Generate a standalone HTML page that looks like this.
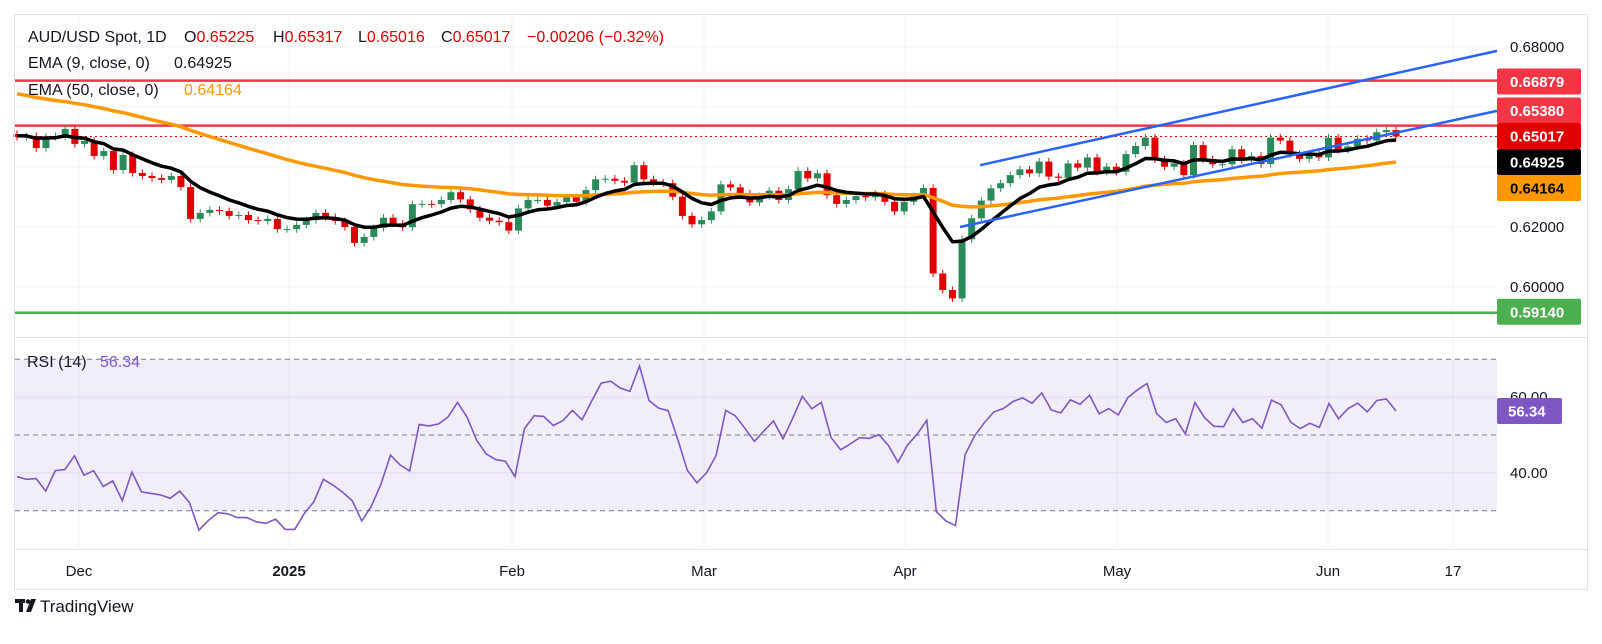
<!DOCTYPE html>
<html><head><meta charset="utf-8"><style>
body{margin:0;background:#fff;}
svg{display:block;font-family:"Liberation Sans",sans-serif;}
</style></head><body>
<svg id="chart" width="1602" height="644" viewBox="0 0 1602 644">
<rect x="0" y="0" width="1602" height="644" fill="#fff"/>
<g id="grid"></g>
<g id="rsiPane"></g>
<g id="levels"></g>
<g id="candles"></g>
<g id="emas"></g>
<g id="channel"></g>
<g id="axes"></g>
<g font-size="16" fill="#131722">
<text y="42"><tspan x="28">AUD/USD Spot, 1D</tspan><tspan x="184">O</tspan><tspan fill="#e00000">0.65225</tspan><tspan x="273">H</tspan><tspan fill="#e00000">0.65317</tspan><tspan x="358">L</tspan><tspan fill="#e00000">0.65016</tspan><tspan x="441">C</tspan><tspan fill="#e00000">0.65017</tspan><tspan x="527" fill="#e00000">−0.00206 (−0.32%)</tspan></text>
<text y="68"><tspan x="28">EMA (9, close, 0)</tspan><tspan x="174">0.64925</tspan></text>
<text y="95"><tspan x="28">EMA (50, close, 0)</tspan><tspan x="184" fill="#ff9800">0.64164</tspan></text>
<text y="367"><tspan x="27">RSI (14)</tspan><tspan x="100" fill="#7e57c2">56.34</tspan></text>
</g>
<g>
<rect x="15" y="599" width="10" height="4" fill="#131722"/>
<rect x="19" y="599" width="4" height="13" fill="#131722"/>
<circle cx="28" cy="601.5" r="2.3" fill="#131722"/>
<polygon points="31,599 36,599 31,612 26,612" fill="#131722"/>
<text x="40" y="612" font-size="17" fill="#131722">TradingView</text>
</g>
</svg>
<script>
const closes=[0.6500,0.6503,0.6463,0.6500,0.6503,0.6527,0.6477,0.6487,0.6437,0.6453,0.6390,0.6440,0.6380,0.6370,0.6363,0.6357,0.6370,0.6333,0.6227,0.6247,0.6257,0.6253,0.6237,0.6240,0.6223,0.6220,0.6227,0.6193,0.6193,0.6207,0.6223,0.6247,0.6233,0.6220,0.6200,0.6147,0.6167,0.6197,
0.6231,0.6212,0.6199,0.6276,0.6277,0.6276,0.6290,0.6316,0.6292,0.6259,0.6231,0.6221,0.6216,0.6188,0.6262,0.6290,0.6290,0.6271,0.6283,0.6299,0.6284,0.6323,0.6359,0.6361,0.6354,0.6348,0.6406,0.6359,0.6348,0.6346,0.6301,0.6237,0.6209,0.6223,0.6252,0.6342,0.6332,0.6312,
0.6282,0.6303,0.6321,0.6290,0.6326,0.6387,0.6362,0.6379,0.6306,0.6277,0.6290,0.6303,0.6299,0.6310,0.6284,0.6252,0.6284,0.6303,0.6330,0.6045,0.5990,0.5962,0.6159,0.6229,0.6288,0.6329,0.6346,0.6373,0.6392,0.6379,0.6418,0.6368,0.6364,0.6412,0.6398,0.6432,0.6384,0.6401,0.6384,
0.6443,0.6470,0.6498,0.6426,0.6401,0.6412,0.6373,0.6473,0.6426,0.6409,0.6409,0.6459,0.6423,0.6437,0.6410,0.6498,0.6488,0.6443,0.6427,0.6443,0.6432,0.6498,0.6457,0.6469,0.6494,0.6488,0.6516,0.6523,0.65017];
const firstOpen=0.6510;
const rsiValues=[39.0,38.3,38.5,35.2,40.6,40.9,44.5,39.4,40.6,36.4,37.9,32.7,40.2,35.0,34.6,34.2,33.3,35.2,32.2,24.9,27.5,29.5,29.2,28.2,28.2,27.1,26.7,27.8,25.1,25.1,29.3,32.4,38.3,36.8,34.9,32.7,27.3,31.2,37.0,44.7,42.1,40.5,52.8,52.4,52.9,54.7,58.6,54.7,48.6,45.0,43.5,
43.1,39.0,51.7,55.1,54.9,52.5,53.8,56.5,54.0,58.9,63.7,64.2,62.4,61.5,68.2,59.1,57.1,56.4,48.8,40.7,37.4,40.0,44.6,56.5,55.1,51.8,48.3,51.1,53.7,49.0,54.4,60.2,56.9,58.6,49.4,46.1,47.6,49.3,49.1,50.1,47.2,42.8,47.4,50.2,53.9,29.8,27.3,26.1,44.8,49.8,53.2,56.1,57.0,58.8,59.8,58.4,61.1,56.6,55.8,59.3,58.1,60.5,55.6,57.0,55.3,
59.9,61.9,63.6,55.7,53.3,54.3,50.3,58.6,54.6,52.3,52.2,56.9,53.3,54.3,51.8,59.2,58.0,53.4,51.7,53.1,52.0,58.3,54.3,57.0,58.4,56.1,59.1,59.5,56.34];
const priceTicks=[0.68,0.62,0.60];
const priceGrid=[0.68,0.66,0.64,0.62,0.60];
const rsiTicks=[60,40];
const rsiBands=[70,50,30];
const xLabels=["Dec","2025","Feb","Mar","Apr","May","Jun","17"];
const xLabelPos=[79,289,512,704,905,1117,1328,1453];
const levels=[{p:0.66879,c:"#f23645",name:"resistance-066879"},{p:0.65380,c:"#f23645",name:"resistance-065380"},{p:0.59140,c:"#4caf50",name:"support-059140"}];
const channelUpper=[0.6406,0.6787];
const channelLower=[0.6200,0.6587];

const NS="http://www.w3.org/2000/svg";
const PL=15,PR=1497,X0=17,X1=1396;
const yP=p=>47+(0.68-p)*3000;
const yR=r=>435-(r-50)*3.79;
const xI=(i,n)=>X0+i*(X1-X0)/(n-1);
function el(tag,attrs,parent){const e=document.createElementNS(NS,tag);for(const k in attrs)e.setAttribute(k,attrs[k]);parent.appendChild(e);return e;}
const grid=document.getElementById('grid'),rsiG=document.getElementById('rsiPane'),lev=document.getElementById('levels'),cg=document.getElementById('candles'),eg=document.getElementById('emas'),ch=document.getElementById('channel'),ax=document.getElementById('axes');
let fr=el('rect',{x:14.5,y:14.5,width:1573,height:575,fill:'none',stroke:'#e0e3eb'},ax);


let sep=el('line',{x1:15,x2:1587,y1:337.5,y2:337.5,stroke:'#e0e3eb'},ax);


let sep2=el('line',{x1:15,x2:1587,y1:549.5,y2:549.5,stroke:'#e0e3eb'},ax);


priceGrid.forEach(p=>{let l=el('line',{x1:PL,x2:PR,y1:yP(p),y2:yP(p),stroke:'#f0f3fa'},grid);});
rsiTicks.forEach(r=>{let l=el('line',{x1:PL,x2:PR,y1:yR(r),y2:yR(r),stroke:'#ebe8f3'},grid);});
xLabelPos.forEach(x=>{let l=el('line',{x1:x,x2:x,y1:15,y2:549,stroke:'#f0f3fa'},grid);});
let band=el('rect',{x:PL,y:yR(70),width:PR-PL,height:yR(30)-yR(70),fill:'#7e57c2','fill-opacity':0.1},rsiG);


rsiBands.forEach(r=>{let l=el('line',{x1:PL,x2:PR,y1:yR(r),y2:yR(r),stroke:'#787b86','stroke-dasharray':'5,4'},rsiG);});
let rp=rsiValues.map((v,i)=>xI(i,rsiValues.length).toFixed(1)+','+yR(v).toFixed(1)).join(' ');
let rl=el('polyline',{points:rp,fill:'none',stroke:'#7e57c2','stroke-width':1.6},rsiG);


levels.forEach(L=>{let l=el('line',{x1:PL,x2:PR,y1:yP(L.p),y2:yP(L.p),stroke:L.c,'stroke-width':2.5},lev);});
const lastC=closes[closes.length-1];
let dl=el('line',{x1:PL,x2:PR,y1:yP(lastC),y2:yP(lastC),stroke:'#e00000','stroke-dasharray':'2,3'},lev);


const n=closes.length;
for(let i=0;i<n;i++){
 const o=i?closes[i-1]:firstOpen,c=closes[i];
 const up=c>=o,col=up?'#2b8a5a':'#e00000';
 const x=xI(i,n);
 const hi=Math.max(o,c)+0.0012,lo=Math.min(o,c)-0.0012;
 const g=el('g',{},cg);
 
 
 el('line',{x1:x,x2:x,y1:yP(hi),y2:yP(lo),stroke:col,'stroke-width':1},g);
 const yt=yP(Math.max(o,c)),yb=yP(Math.min(o,c));
 el('rect',{x:x-3.5,y:yt,width:7,height:Math.max(1,yb-yt),fill:col},g);
}
function ema(period,seed){const k=2/(period+1);let e=seed;return closes.map(c=>{e=c*k+e*(1-k);return e;});}
const e9=ema(9,0.6505),e50=ema(50,0.6650);
[[e50,'#ff9800','ema50-line'],[e9,'#000','ema9-line']].forEach(([arr,col,nm])=>{
 let pts=arr.map((v,i)=>xI(i,n).toFixed(1)+','+yP(v).toFixed(1)).join(' ');
 let p=el('polyline',{points:pts,fill:'none',stroke:col,'stroke-width':3.5,'stroke-linejoin':'round'},eg);
 
 
});
let cu=el('line',{x1:980,x2:PR,y1:yP(channelUpper[0]),y2:yP(channelUpper[1]),stroke:'#2962ff','stroke-width':2.5},ch);


let cl=el('line',{x1:960,x2:PR,y1:yP(channelLower[0]),y2:yP(channelLower[1]),stroke:'#2962ff','stroke-width':2.5},ch);


priceTicks.forEach(p=>{let t=el('text',{x:1510,y:yP(p)+5,'font-size':15,fill:'#131722'},ax);t.textContent=p.toFixed(5);});
rsiTicks.forEach(r=>{let t=el('text',{x:1510,y:yR(r)+5,'font-size':15,fill:'#131722'},ax);t.textContent=r.toFixed(2);});
xLabels.forEach((s,i)=>{let t=el('text',{x:xLabelPos[i],y:576,'font-size':15,fill:'#131722','text-anchor':'middle','font-weight':s==='2025'?'bold':'normal'},ax);t.textContent=s;});
function tag(yc,txt,bg,fg,nm){const g=el('g',{},ax);el('rect',{x:1497,y:yc-13,width:84,height:26,rx:2,fill:bg},g);let t=el('text',{x:1510,y:yc+5.5,'font-size':15,fill:fg,'font-weight':'bold'},g);t.textContent=txt;}
tag(81.5,'0.66879','#f23645','#fff','label-066879');
tag(110.5,'0.65380','#f23645','#fff','label-065380');
tag(136,lastC.toFixed(5),'#e00000','#fff','label-last-price');
tag(162,'0.64925','#000','#fff','label-ema9');
tag(188,'0.64164','#ff9800','#000','label-ema50');
tag(yP(0.5914)-1,'0.59140','#4caf50','#fff','label-059140');
(function(){const g=el('g',{},ax);el('rect',{x:1497,y:yR(56.34)-13,width:65,height:26,rx:2,fill:'#7e57c2'},g);let t=el('text',{x:1508,y:yR(56.34)+5.5,'font-size':15,fill:'#fff','font-weight':'bold'},g);t.textContent='56.34';})();
</script>
</body></html>
